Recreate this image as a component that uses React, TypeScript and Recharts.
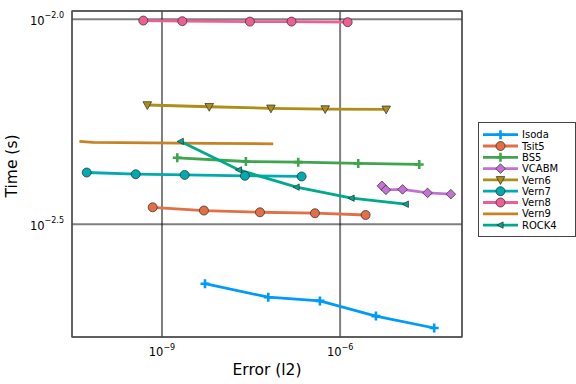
import React from 'react';
import { LineChart, Line, XAxis, YAxis, CartesianGrid, ReferenceArea } from 'recharts';

// ---- data (Error l2, Time s) ----
const isodaErr = [5.30e-9, 6.17e-8, 4.57e-7, 4.01e-6, 3.84e-5];
const isodaTime = [2.265e-3, 2.099e-3, 2.056e-3, 1.888e-3, 1.766e-3];
const tsit5Err = [6.97e-10, 5.09e-9, 4.47e-8, 3.77e-7, 2.69e-6];
const tsit5Time = [3.478e-3, 3.415e-3, 3.382e-3, 3.364e-3, 3.331e-3];
const bs5Err = [1.81e-9, 2.59e-8, 1.97e-7, 2.02e-6, 2.15e-5];
const bs5Time = [4.592e-3, 4.498e-3, 4.481e-3, 4.449e-3, 4.424e-3];
const vcabmErr = [5.06e-6, 5.90e-6, 1.127e-5, 2.97e-5, 7.33e-5];
const vcabmTime = [3.923e-3, 3.836e-3, 3.845e-3, 3.771e-3, 3.744e-3];
const vern6Err = [5.66e-10, 6.25e-9, 6.84e-8, 5.61e-7, 5.97e-6];
const vern6Time = [6.176e-3, 6.116e-3, 6.062e-3, 6.038e-3, 6.028e-3];
const vern7Err = [5.40e-11, 3.61e-10, 2.41e-9, 2.49e-8, 2.25e-7];
const vern7Time = [4.228e-3, 4.188e-3, 4.171e-3, 4.150e-3, 4.135e-3];
const vern8Err = [4.84e-10, 2.20e-9, 3.03e-8, 1.52e-7, 1.34e-6];
const vern8Time = [9.922e-3, 9.888e-3, 9.865e-3, 9.865e-3, 9.833e-3];
const vern9Err = [4.06e-11, 6.89e-11, 6.28e-10, 6.43e-9, 7.48e-8];
const vern9Time = [5.035e-3, 5.007e-3, 4.996e-3, 4.982e-3, 4.967e-3];
const rock4Err = [2.07e-9, 1.98e-8, 1.85e-7, 1.56e-6, 1.28e-5];
const rock4Time = [5.035e-3, 4.290e-3, 3.894e-3, 3.660e-3, 3.539e-3];

const xTicks = [1e-9, 1e-6];
const yTicks = [0.0031622777, 0.01];

type Shape = 'cross' | 'circle' | 'diamond' | 'dtri' | 'ltri' | 'none';
const series: { name: string; color: string; shape: Shape; err: number[]; time: number[] }[] = [
  { name: 'Isoda', color: '#009AFA', shape: 'cross', err: isodaErr, time: isodaTime },
  { name: 'Tsit5', color: '#E36F47', shape: 'circle', err: tsit5Err, time: tsit5Time },
  { name: 'BS5', color: '#3EA44E', shape: 'cross', err: bs5Err, time: bs5Time },
  { name: 'VCABM', color: '#C371D2', shape: 'diamond', err: vcabmErr, time: vcabmTime },
  { name: 'Vern6', color: '#AC8E18', shape: 'dtri', err: vern6Err, time: vern6Time },
  { name: 'Vern7', color: '#00AAAE', shape: 'circle', err: vern7Err, time: vern7Time },
  { name: 'Vern8', color: '#ED5E93', shape: 'circle', err: vern8Err, time: vern8Time },
  { name: 'Vern9', color: '#C68225', shape: 'none', err: vern9Err, time: vern9Time },
  { name: 'ROCK4', color: '#00A98D', shape: 'ltri', err: rock4Err, time: rock4Time },
];

const FONT = 'DejaVu Sans';
const X_DOMAIN = [3.05e-11, 1.13e-4];
const Y_DOMAIN = [1.679e-3, 1.047e-2];

function Marker({ shape, cx, cy, color }: { shape: Shape; cx: number; cy: number; color: string }) {
  const st = '#2a2a2a';
  switch (shape) {
    case 'circle':
      return <circle cx={cx} cy={cy} r={4.5} fill={color} stroke={st} strokeWidth={0.7} />;
    case 'cross':
      return (
        <path d={`M${cx - 4.5},${cy}H${cx + 4.5}M${cx},${cy - 4.5}V${cy + 4.5}`} stroke={color} strokeWidth={2.6} fill="none" />
      );
    case 'diamond':
      return (
        <polygon points={`${cx},${cy - 4.8} ${cx + 4.8},${cy} ${cx},${cy + 4.8} ${cx - 4.8},${cy}`} fill={color} stroke={st} strokeWidth={0.7} />
      );
    case 'dtri':
      return (
        <polygon points={`${cx - 4.3},${cy - 3.3} ${cx + 4.3},${cy - 3.3} ${cx},${cy + 4.5}`} fill={color} stroke={st} strokeWidth={0.7} />
      );
    case 'ltri':
      return (
        <polygon points={`${cx - 3.6},${cy} ${cx + 2.6},${cy - 3.2} ${cx + 2.6},${cy + 3.2}`} fill={color} stroke={st} strokeWidth={0.7} />
      );
    default:
      return null;
  }
}

const minus = '\u2212';

const XTick = (props: any) => {
  const { x, payload } = props;
  const e = Math.round(Math.log10(payload.value));
  return (
    <text x={x} y={356} textAnchor="middle" fontFamily={FONT} fontSize={11.5} fill="#000">
      <tspan>10</tspan>
      <tspan dy={-6} fontSize={8}>{minus + Math.abs(e)}</tspan>
    </text>
  );
};

const YTick = (props: any) => {
  const { y, payload } = props;
  const e = Math.log10(payload.value);
  return (
    <text x={64} y={y + 5.5} textAnchor="end" fontFamily={FONT} fontSize={11.5} fill="#000">
      <tspan>10</tspan>
      <tspan dy={-6.5} fontSize={8}>{minus + Math.abs(e).toFixed(1)}</tspan>
    </text>
  );
};

function LegendBox() {
  const x0 = 478;
  const y0 = 122;
  return (
    <g>
      <rect x={x0 + 0.5} y={y0 + 0.5} width={97} height={114} fill="#fff" stroke="#444" strokeWidth={1} />
      {series.map((s, i) => {
        const y = y0 + 12.7 + i * 11.3;
        return (
          <g key={s.name}>
            <line x1={x0 + 5} x2={x0 + 40} y1={y} y2={y} stroke={s.color} strokeWidth={2.8} />
            <Marker shape={s.shape} cx={x0 + 22.5} cy={y} color={s.color} />
            <text x={x0 + 44} y={y + 3.6} fontFamily={FONT} fontSize={10} fill="#000">
              {s.name}
            </text>
          </g>
        );
      })}
    </g>
  );
}

export default function App() {
  return (
    <div style={{ position: 'absolute', left: 0, top: 0, width: 576, height: 384, background: '#fff' }}>
      <LineChart width={576} height={384} margin={{ top: 11, right: 114, bottom: 0, left: 0 }}>
        <CartesianGrid stroke="#000" strokeOpacity={0.5} strokeWidth={2} />
        <XAxis
          xAxisId={0}
          dataKey="x"
          type="number"
          scale="log"
          domain={X_DOMAIN}
          allowDataOverflow
          ticks={xTicks}
          tick={<XTick />}
          tickLine={false}
          axisLine={false}
          height={47}
          label={{
            content: () => (
              <text x={267} y={375} textAnchor="middle" fontFamily={FONT} fontSize={15.5} fill="#000">
                Error (l2)
              </text>
            ),
          }}
        />
        <YAxis
          yAxisId={0}
          dataKey="y"
          type="number"
          scale="log"
          domain={Y_DOMAIN}
          allowDataOverflow
          ticks={yTicks}
          tick={<YTick />}
          tickLine={false}
          axisLine={false}
          width={72}
          label={{
            content: () => (
              <text x={17} y={166} transform="rotate(-90 17 166)" textAnchor="middle" fontFamily={FONT} fontSize={15.5} fill="#000">
                Time (s)
              </text>
            ),
          }}
        />
        <ReferenceArea
          x1={X_DOMAIN[0]}
          x2={X_DOMAIN[1]}
          y1={Y_DOMAIN[0]}
          y2={Y_DOMAIN[1]}
          fill="none"
          stroke="#555"
          strokeWidth={1.3}
          ifOverflow="visible"
        />
        {series.map((s) => (
          <Line
            key={s.name}
            name={s.name}
            data={s.err.map((e, i) => ({ x: e, y: s.time[i] }))}
            dataKey="y"
            stroke={s.color}
            strokeWidth={2.8}
            isAnimationActive={false}
            dot={(p: any) => <Marker key={`${s.name}-${p.index}`} shape={s.shape} cx={p.cx} cy={p.cy} color={s.color} />}
            activeDot={false}
            legendType="none"
          />
        ))}
        <LegendBox />
      </LineChart>
    </div>
  );
}
